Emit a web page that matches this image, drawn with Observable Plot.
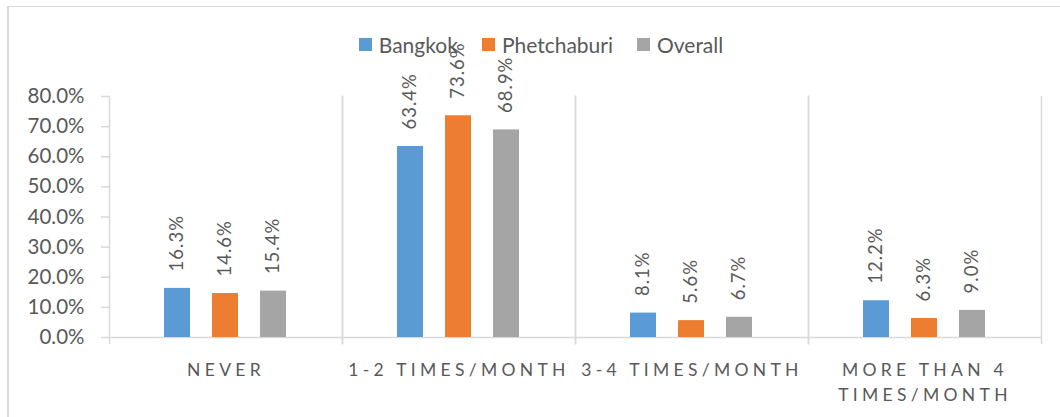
<!DOCTYPE html>
<html>
<head>
<meta charset="utf-8">
<script src="https://cdn.jsdelivr.net/npm/d3@7"></script>
<script src="https://cdn.jsdelivr.net/npm/@observablehq/plot@0.6"></script>
<style>
  html, body { margin: 0; padding: 0; background: #fff; }
  #wrap { position: relative; width: 1060px; height: 417px; overflow: hidden; font-family: Lato, "Open Sans", sans-serif; }
  #border { position: absolute; left: 7px; top: 6px; width: 1200px; height: 600px; border-left: 2px solid #d9d9d9; border-top: 1px solid #d9d9d9; box-sizing: border-box; }
  #legend { position: absolute; top: 32px; left: 0; width: 1060px; display: flex; justify-content: center; gap: 24px; font-size: 21px; color: #595959; padding-left: 22px; box-sizing: border-box; }
  #legend .item { display: flex; align-items: center; gap: 7px; }
  #legend .sw { width: 13px; height: 13px; display: inline-block; }
  #chart { position: absolute; left: 0; top: 0; }
  #chart svg { font-family: Lato, "Open Sans", sans-serif; }
  #chart g[aria-label="fx-axis tick label"] text { letter-spacing: 4.3px; }
  #chart g.vlabels text { letter-spacing: 1px; }
</style>
</head>
<body>
<div id="wrap">
  <div id="border"></div>
  <div id="chart"></div>
  <div id="legend"></div>
</div>
<script>
const categories = ["Never", "1-2 times/month", "3-4 times/month", "More than 4 times/month"];
const categoryLabels = ["NEVER", "1-2 TIMES/MONTH", "3-4 TIMES/MONTH", "MORE THAN 4\nTIMES/MONTH"];
const series = ["Bangkok", "Phetchaburi", "Overall"];
const bangkok = [16.3, 63.4, 8.1, 12.2];
const phetchaburi = [14.6, 73.6, 5.6, 6.3];
const overall = [15.4, 68.9, 6.7, 9.0];
const yTicks = [0, 10, 20, 30, 40, 50, 60, 70, 80];
const colors = ["#5B9BD5", "#ED7D31", "#A5A5A5"];

const seriesValues = [bangkok, phetchaburi, overall];
const data = [];
categories.forEach((c, i) => {
  series.forEach((s, j) => data.push({category: c, series: s, value: seriesValues[j][i]}));
});
const labelOf = new Map(categories.map((c, i) => [c, categoryLabels[i]]));
const grid = "#d9d9d9";
const textColor = "#595959";

const chart = Plot.plot({
  width: 1060,
  height: 417,
  marginLeft: 108,
  marginRight: 19,
  marginTop: 96,
  marginBottom: 80,
  style: {background: "transparent"},
  fx: {domain: categories, padding: 0, label: null},
  x: {domain: series, paddingInner: 0.458, paddingOuter: 1.156, axis: null},
  y: {domain: [0, 80], label: null},
  color: {domain: series, range: colors},
  marks: [
    Plot.frame({anchor: "left", stroke: grid, strokeWidth: 1.5, insetBottom: -6}),
    Plot.frame({anchor: "right", stroke: grid, strokeWidth: 1.5, insetBottom: -6}),
    Plot.ruleY([0], {stroke: grid, strokeWidth: 1.5}),
    Plot.barY(data, {fx: "category", x: "series", y: "value", fill: "series"}),
    Plot.text(data, {
      fx: "category", x: "series", y: "value",
      text: d => d.value.toFixed(1) + "%",
      rotate: -90, textAnchor: "start", dy: -17,
      fill: textColor, fontSize: 18.5, className: "vlabels"
    }),
    Plot.axisY({
      ticks: yTicks, tickFormat: d => d.toFixed(1) + "%",
      tickSize: 8, tickPadding: 17, stroke: grid, strokeWidth: 1.5,
      fill: textColor, fontSize: 20.5, label: null
    }),
    Plot.axisFx({
      anchor: "bottom", tickSize: 0, tickPadding: 20,
      tickFormat: d => labelOf.get(d), lineHeight: 1.45,
      fill: textColor, fontSize: 17.5, label: null
    })
  ]
});
document.getElementById("chart").appendChild(chart);

const legend = document.getElementById("legend");
series.forEach((s, i) => {
  const item = document.createElement("div");
  item.className = "item";
  const sw = document.createElement("span");
  sw.className = "sw";
  sw.style.background = colors[i];
  const t = document.createElement("span");
  t.textContent = s;
  item.appendChild(sw);
  item.appendChild(t);
  legend.appendChild(item);
});
</script>
</body>
</html>
